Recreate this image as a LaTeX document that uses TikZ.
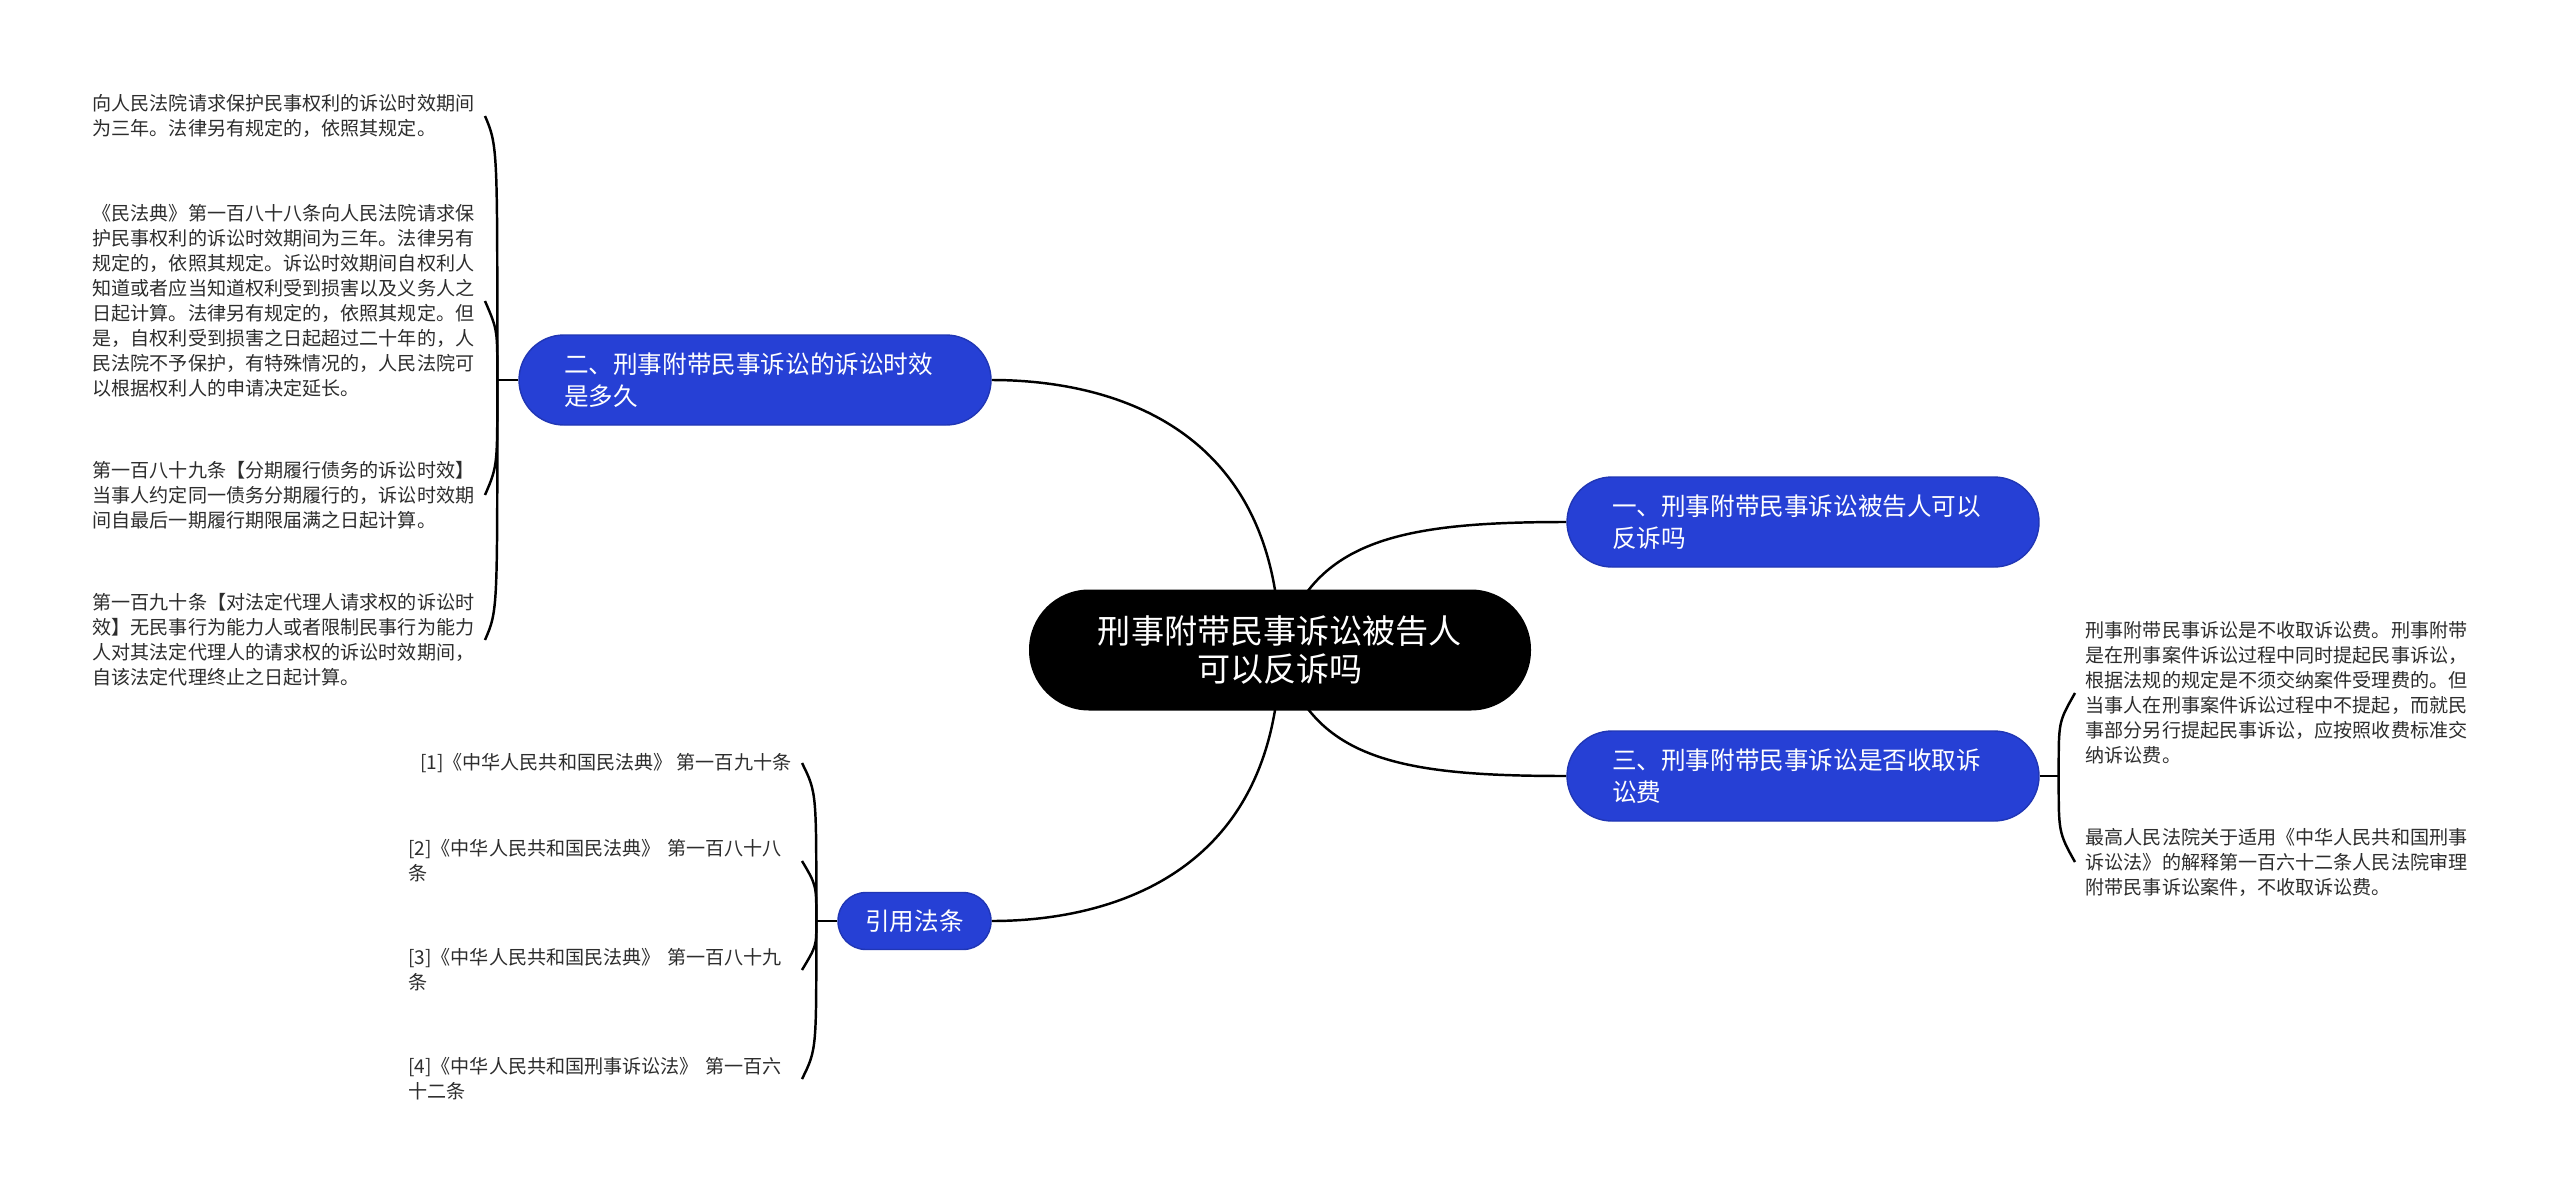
\documentclass[tikz,border=0pt]{standalone}
\usepackage{fontspec}
\setmainfont{Noto Sans CJK SC}
\usepackage{tikz}
\usetikzlibrary{backgrounds}
\definecolor{topicblue}{RGB}{38,64,213}
\definecolor{leafgray}{RGB}{45,45,45}
\tikzset{
  link/.style={line width=0.7pt, black},
  root/.style={fill=black, text=white, rounded corners=0.6cm, minimum width=5.02cm, minimum height=1.21cm, align=center, font=\fontsize{9.42}{10.8}\selectfont},
  branch/.style={fill=topicblue, draw=topicblue!85!black, text=white, rounded corners=0.45cm, minimum height=0.9cm, text width=3.82cm, inner xsep=0.45cm, align=left, font=\fontsize{7}{9.2}\selectfont},
  refbox/.style={fill=topicblue, draw=topicblue!85!black, text=white, rounded corners=0.28cm, minimum height=0.57cm, minimum width=1.53cm, align=center, font=\fontsize{7}{9.2}\selectfont},
  leaf/.style={inner xsep=0.1cm, inner ysep=0pt, align=left, text=leafgray, font=\fontsize{5.43}{7.1}\selectfont}
}

\begin{document}
\begin{tikzpicture}
  \useasboundingbox (0,0) rectangle (25.6,-11.95);

  \node[root] (root) at (12.80,-6.50) {刑事附带民事诉讼被告人\\可以反诉吗};
  \node[branch] (b1) at (18.03,-5.22) {一、刑事附带民事诉讼被告人可以\\反诉吗};
  \node[branch] (b2) at (7.55,-3.80) {二、刑事附带民事诉讼的诉讼时效\\是多久};
  \node[branch] (b3) at (18.03,-7.76) {三、刑事附带民事诉讼是否收取诉\\讼费};
  \node[refbox] (br) at (9.145,-9.21) {引用法条};

  \coordinate (j2) at ([xshift=-0.21cm]b2.west);
  \coordinate (j3) at ([xshift=0.19cm]b3.east);
  \coordinate (jr) at ([xshift=-0.21cm]br.west);

  % statute of limitations
  \node[leaf, anchor=east] (a1) at (4.85,-1.16) {向人民法院请求保护民事权利的诉讼时效期间\\为三年。法律另有规定的，依照其规定。};
  \node[leaf, anchor=east] (a2) at (4.85,-3.01) {《民法典》第一百八十八条向人民法院请求保\\护民事权利的诉讼时效期间为三年。法律另有\\规定的，依照其规定。诉讼时效期间自权利人\\知道或者应当知道权利受到损害以及义务人之\\日起计算。法律另有规定的，依照其规定。但\\是，自权利受到损害之日起超过二十年的，人\\民法院不予保护，有特殊情况的，人民法院可\\以根据权利人的申请决定延长。};
  \node[leaf, anchor=east] (a3) at (4.85,-4.95) {第一百八十九条【分期履行债务的诉讼时效】\\当事人约定同一债务分期履行的，诉讼时效期\\间自最后一期履行期限届满之日起计算。};
  \node[leaf, anchor=east] (a4) at (4.85,-6.40) {第一百九十条【对法定代理人请求权的诉讼时\\效】无民事行为能力人或者限制民事行为能力\\人对其法定代理人的请求权的诉讼时效期间，\\自该法定代理终止之日起计算。};

  % fees
  \node[leaf, anchor=west] (e1) at (20.75,-6.93) {刑事附带民事诉讼是不收取诉讼费。刑事附带\\是在刑事案件诉讼过程中同时提起民事诉讼，\\根据法规的规定是不须交纳案件受理费的。但\\当事人在刑事案件诉讼过程中不提起，而就民\\事部分另行提起民事诉讼，应按照收费标准交\\纳诉讼费。};
  \node[leaf, anchor=west] (e2) at (20.75,-8.62) {最高人民法院关于适用《中华人民共和国刑事\\诉讼法》的解释第一百六十二条人民法院审理\\附带民事诉讼案件，不收取诉讼费。};

  % references
  \node[leaf, anchor=east] (r1) at (8.02,-7.63) {[1]《中华人民共和国民法典》 第一百九十条};
  \node[leaf, anchor=east, text width=3.83cm] (r2) at (8.02,-8.61) {[2]《中华人民共和国民法典》 第一百八十八\\条};
  \node[leaf, anchor=east, text width=3.83cm] (r3) at (8.02,-9.70) {[3]《中华人民共和国民法典》 第一百八十九\\条};
  \node[leaf, anchor=east, text width=3.83cm] (r4) at (8.02,-10.79) {[4]《中华人民共和国刑事诉讼法》 第一百六\\十二条};

  \begin{scope}[on background layer]
    \fill[white] (0,0) rectangle (25.6,-11.95);
    \draw[link] (root.center) .. controls +(-0.02,2.3) and +(1.1,0) .. (b2.east);
    \draw[link] (root.center) .. controls +(-0.02,-2.3) and +(1.1,0) .. (br.east);
    \draw[link] (root.center) .. controls +(0.30,1.10) and +(-1.67,0) .. (b1.west);
    \draw[link] (root.center) .. controls +(0.30,-1.10) and +(-1.67,0) .. (b3.west);
  \end{scope}

  \draw[link] (b2.west) -- (j2); \draw[link] (b3.east) -- (j3); \draw[link] (br.west) -- (jr);
  \draw[link] (j2) .. controls +(0,2.3) and +(0.13,-0.3) .. (a1.east);
  \draw[link] (j2) .. controls +(0,0.5) and +(0.13,-0.3) .. (a2.east);
  \draw[link] (j2) .. controls +(0,-0.85) and +(0.13,0.3) .. (a3.east);
  \draw[link] (j2) .. controls +(0,-2.3) and +(0.13,0.3) .. (a4.east);
  \draw[link] (j3) .. controls +(0,0.55) and +(-0.17,-0.3) .. (e1.west);
  \draw[link] (j3) .. controls +(0,-0.55) and +(-0.17,0.3) .. (e2.west);
  \draw[link] (jr) .. controls +(0,1.28) and +(0.15,-0.3) .. (r1.east);
  \draw[link] (jr) .. controls +(0,0.35) and +(0.15,-0.25) .. (r2.east);
  \draw[link] (jr) .. controls +(0,-0.25) and +(0.15,0.25) .. (r3.east);
  \draw[link] (jr) .. controls +(0,-1.28) and +(0.15,0.3) .. (r4.east);
\end{tikzpicture}
\end{document}
